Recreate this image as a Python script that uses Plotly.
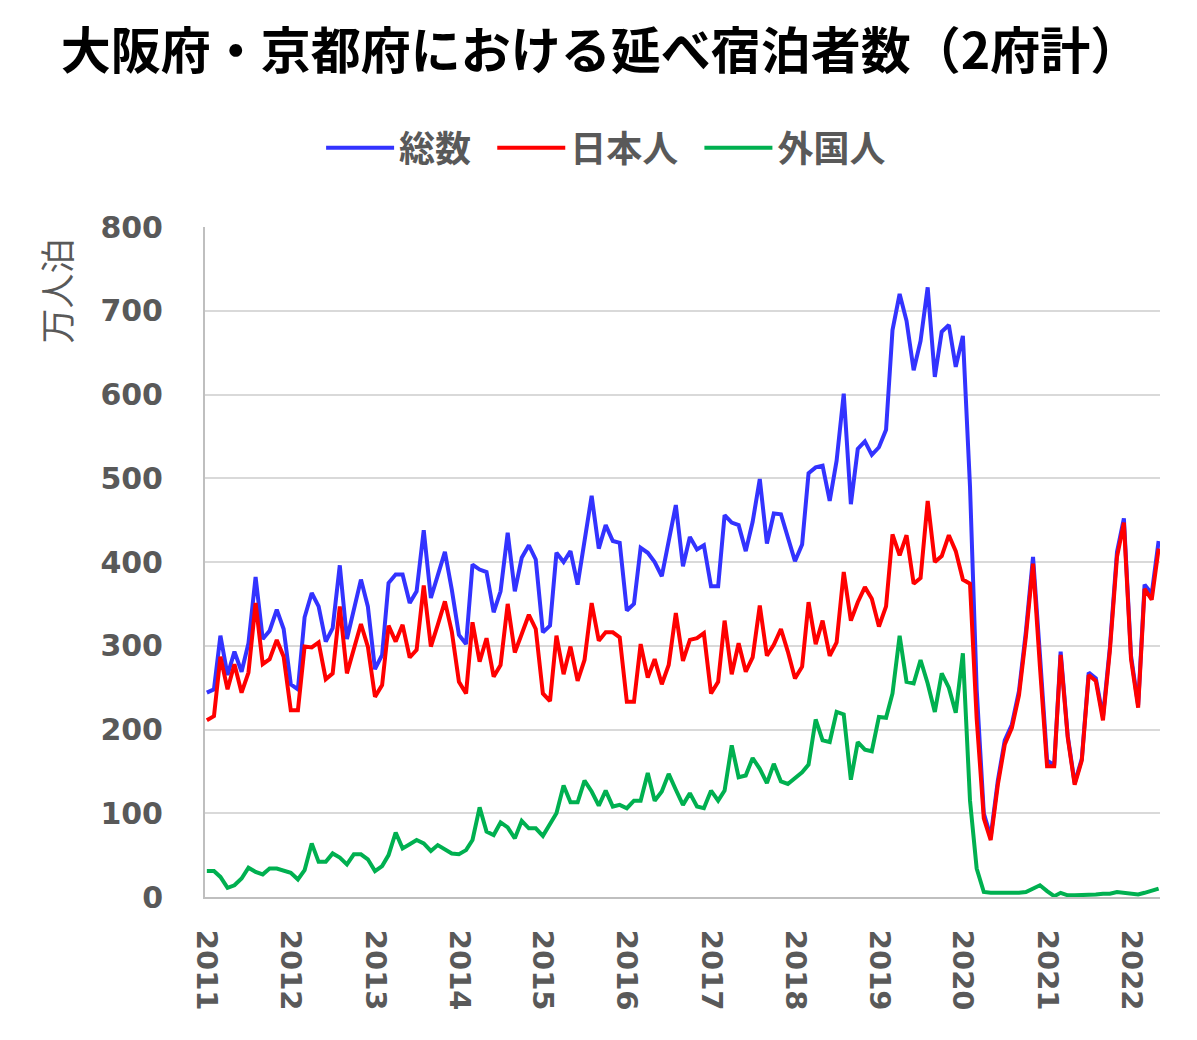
import pandas as pd
import plotly.graph_objects as go

months = pd.date_range("2011-01-01", periods=137, freq="MS")

total = [244, 248, 312, 265, 293, 269, 303, 382, 308, 318, 343, 320,
         254, 248, 334, 363, 347, 305, 321, 396, 308, 343, 379, 347,
         272, 289, 375, 385, 385, 351, 365, 438, 357, 384, 412, 367,
         313, 302, 397, 391, 388, 340, 365, 435, 365, 405, 420, 403,
         316, 324, 411, 400, 413, 373, 426, 479, 416, 444, 425, 423,
         342, 350, 417, 411, 400, 383, 425, 468, 395, 430, 415, 420,
         371, 371, 456, 447, 444, 413, 448, 499, 422, 458, 457, 429,
         401, 421, 506, 513, 515, 473, 521, 601, 469, 535, 544, 528,
         537, 558, 677, 720, 688, 629, 664, 728, 621, 675, 683, 633,
         670, 490, 248, 100, 72, 139, 187, 206, 246, 317, 406, 289,
         163, 157, 293, 192, 136, 165, 268, 261, 215, 298, 412, 452,
         288, 229, 373, 362, 425]

japanese = [211, 216, 287, 248, 278, 244, 268, 351, 278, 284, 307, 287,
            223, 223, 299, 298, 304, 260, 267, 347, 267, 295, 326, 299,
            239, 253, 324, 305, 325, 286, 295, 372, 299, 325, 353, 317,
            257, 243, 328, 281, 309, 263, 277, 350, 292, 314, 337, 320,
            243, 234, 312, 266, 299, 258, 283, 351, 306, 316, 316, 310,
            233, 233, 302, 262, 284, 254, 277, 339, 282, 307, 309, 315,
            243, 257, 330, 266, 303, 269, 286, 348, 288, 301, 320, 293,
            261, 275, 352, 302, 330, 288, 304, 388, 330, 352, 370, 356,
            323, 347, 433, 408, 432, 374, 381, 473, 400, 407, 432, 413,
            379, 374, 213, 94, 68, 134, 182, 202, 241, 311, 398, 275,
            156, 156, 289, 190, 134, 163, 265, 258, 211, 294, 406, 447,
            284, 226, 368, 355, 416]

foreign = [31, 31, 24, 11, 14, 22, 35, 30, 27, 34, 34, 31,
           29, 21, 32, 64, 42, 42, 52, 47, 39, 51, 51, 45,
           31, 37, 50, 77, 58, 63, 68, 64, 55, 62, 57, 52,
           51, 56, 68, 107, 78, 74, 89, 83, 70, 91, 82, 82,
           73, 88, 100, 133, 113, 113, 139, 126, 109, 127, 108, 110,
           106, 115, 115, 148, 115, 126, 147, 128, 110, 124, 108, 106,
           127, 115, 127, 181, 143, 145, 166, 153, 136, 159, 138, 135,
           142, 149, 158, 212, 187, 185, 221, 218, 140, 185, 176, 174,
           215, 214, 243, 312, 257, 255, 283, 255, 221, 267, 250, 220,
           291, 115, 34, 6, 5, 5, 5, 4, 5, 6, 10, 14,
           7, 1, 5, 2, 2, 2, 3, 3, 4, 4, 6, 5,
           4, 3, 5, 7, 10]

series_names = ["総数", "日本人", "外国人"]
series_colors = ["#3333FF", "#FF0000", "#00B050"]
year_ticks = [str(y) for y in range(2011, 2023)]

FONT = "Noto Sans CJK JP"
NUMFONT = "DejaVu Sans"
GRAY = "#595959"

fig = go.Figure()
for i, (name, vals, col) in enumerate(zip(series_names, [total, japanese, foreign], series_colors)):
    label = "<b>" + name + "</b>" + ("\u00a0\u00a0" if i < len(series_names) - 1 else "")
    fig.add_trace(go.Scatter(x=months, y=vals, mode="lines", name=label,
                             line=dict(color=col, width=4)))

fig.update_layout(
    width=1197, height=1040,
    paper_bgcolor="white", plot_bgcolor="white",
    margin=dict(l=197, r=45, t=219, b=151),
    font=dict(family=FONT, color=GRAY),
    title=dict(text="<b>大阪府・京都府における延べ宿泊者数（2府計）</b>",
               font=dict(size=50, color="black", family=FONT),
               x=0.495, xanchor="center", y=0.958, yanchor="middle",
               xref="container", yref="container"),
    legend=dict(orientation="h", x=0.42, xanchor="center", y=1.118, yanchor="middle",
                font=dict(size=36, color=GRAY, family=FONT), itemwidth=68,
                bgcolor="rgba(0,0,0,0)"),
    showlegend=True,
)

fig.update_xaxes(
    type="date",
    range=["2010-12-24", "2022-05-07"],
    tickvals=[pd.Timestamp(f"{y}-01-01") for y in year_ticks],
    ticktext=["<b>" + y + "</b>" for y in year_ticks],
    tickangle=90,
    tickfont=dict(size=29, color=GRAY, family=NUMFONT),
    showgrid=False, showline=True, linecolor="#BFBFBF", linewidth=2,
    ticks="", ticklabelstandoff=25,
)
fig.update_yaxes(
    range=[0, 800], dtick=100,
    tickfont=dict(size=30, color=GRAY, family=NUMFONT),
    tickprefix="<b>", ticksuffix="</b>",
    showgrid=True, gridcolor="#D9D9D9", gridwidth=2,
    showline=True, linecolor="#BFBFBF", linewidth=2,
    zeroline=False, ticks="", ticklabelstandoff=34,
)
fig.add_annotation(text="万人泊", textangle=-90, xref="paper", yref="paper",
                   x=-0.157, y=0.985, xanchor="center", yanchor="top",
                   showarrow=False, font=dict(size=35, color=GRAY, family=FONT))

fig.write_html("out.html")
